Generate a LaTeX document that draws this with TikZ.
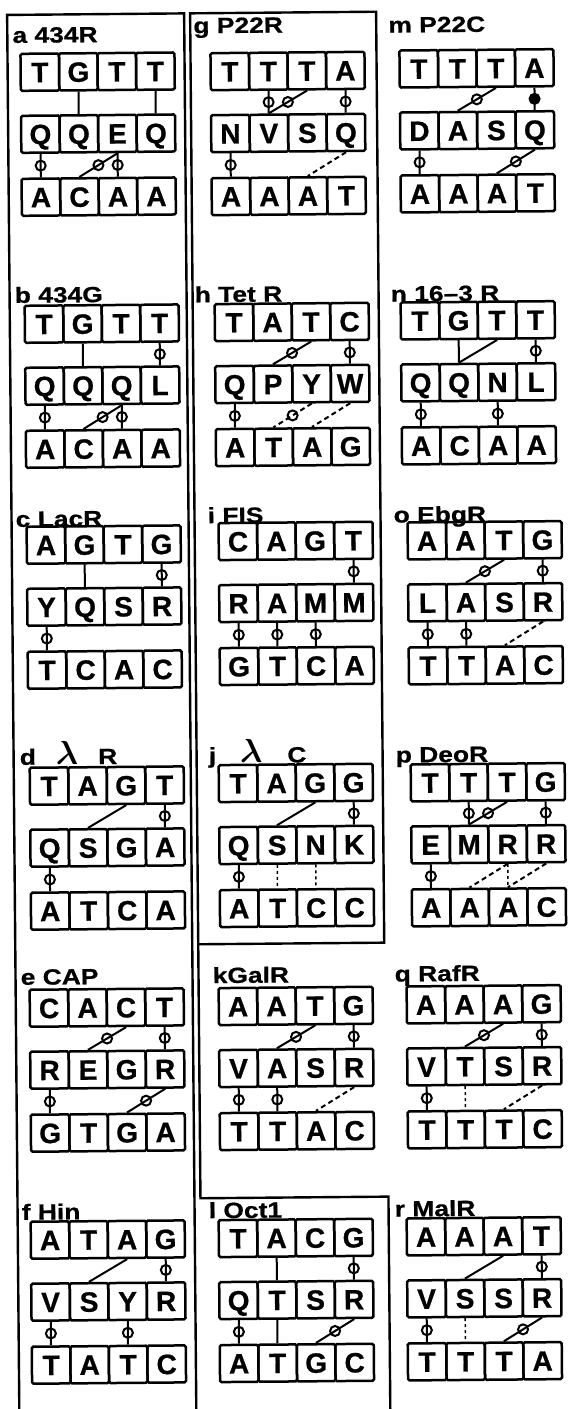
\documentclass[tikz,border=0pt]{standalone}
\usepackage{fontspec}
\setmainfont{Liberation Sans}[FakeBold=0.8]
\newfontfamily\lblfont{Liberation Sans}[FakeStretch=1.2, FakeBold=0.8]

% one row of four bases: name prefix, left x, centre y, letters
\newcommand{\dnarow}[4]{%
  \foreach \lt [count=\i] in {#4}
    \node[nucbox] (#1\i) at ({#2+38.5*\i-19.25},{#3}) {\lt};}
% one panel: id, left x, top y, DNA top, protein, DNA bottom
\newcommand{\panel}[6]{%
  \dnarow{#1t}{#2}{#3+18.5}{#4}
  \dnarow{#1m}{#2}{#3+80.5}{#5}
  \dnarow{#1b}{#2}{#3+143.5}{#6}}
\newcommand{\bondline}[3][bond]{\draw[#1] (#2.south) -- (#3.north);}
\newcommand{\ringline}[3][bond]{\draw[#1] (#2.south) -- node[ring]{} (#3.north);}
\newcommand{\lam}{\scalebox{1.6}{$\boldsymbol{\lambda}$}}
\usepackage{amsmath,amssymb}

\tikzset{
  nucbox/.style={draw, line width=2.5pt, rounded corners=1.5pt,
    minimum width=38.5pt, minimum height=37pt, inner sep=0pt,
    text height=20pt, text depth=0pt,
    font=\fontsize{28}{28}\selectfont\bfseries},
  lbl/.style={anchor=base west, inner sep=0pt,
    font=\lblfont\fontsize{22}{22}\selectfont\bfseries},
  bond/.style={line width=2pt},
  dbond/.style={bond, dash pattern=on 5pt off 3.5pt},
  sbond/.style={line width=1.5pt, dash pattern=on 3pt off 3pt},
  ring/.style={circle, draw, solid, line width=2pt, minimum size=10pt, inner sep=0pt},
  panelframe/.style={line width=2.4pt}
}

\begin{document}
\begin{tikzpicture}[x=1pt, y=-1pt]
\useasboundingbox (0,0) rectangle (569,1409);
\begin{scope}[rotate=0.5, transform shape]

% ---- frames ----
\draw[panelframe] (7,1425) -- (7,15) -- (184,15) -- (184,1425);
\draw[panelframe] (190,15) rectangle (376,946);
\draw[panelframe] (190,946) -- (190,1200) -- (378,1200) -- (378,1425);

% ---- column 1 ----
\node[lbl] (la) at (12,43) {a 434R};
\panel{a}{20}{54}{T,G,T,T}{Q,Q,E,Q}{A,C,A,A}
\bondline{at2}{am2} \bondline{at4}{am4}
\ringline{am1}{ab1} \ringline{am3}{ab3} \ringline{am3}{ab2}

\node[lbl] (lb) at (12,303) {b 434G};
\panel{b}{22}{306}{T,G,T,T}{Q,Q,Q,L}{A,C,A,A}
\bondline{bt2}{bm2} \ringline{bt4}{bm4}
\ringline{bm1}{bb1} \ringline{bm3}{bb3} \ringline{bm3}{bb2}

\node[lbl] (lc) at (11,527) {c LacR};
\panel{c}{22}{527}{A,G,T,G}{Y,Q,S,R}{T,C,A,C}
\bondline{ct2}{cm2} \ringline{ct4}{cm4}
\ringline{cm1}{cb1}

\node[lbl] (ld) at (13,765) {d\hspace{20pt}\lam\hspace{20pt}R};
\panel{d}{23}{768}{T,A,G,T}{Q,S,G,A}{A,T,C,A}
\bondline{dt3}{dm2} \ringline{dt4}{dm4}
\ringline{dm1}{db1}

\node[lbl] (le) at (12,985) {e CAP};
\panel{e}{21}{990}{C,A,C,T}{R,E,G,R}{G,T,G,A}
\ringline{et3}{em2} \ringline{et4}{em4}
\ringline{em1}{eb1} \ringline{em4}{eb3}

\node[lbl] (lf) at (11,1220) {f Hin};
\panel{f}{20}{1222}{A,T,A,G}{V,S,Y,R}{T,A,T,C}
\bondline{ft3}{fm2} \ringline{ft4}{fm4}
\ringline{fm1}{fb1} \ringline{fm3}{fb3}

% ---- column 2 ----
\node[lbl] (lg) at (193,35) {g P22R};
\panel{g}{210}{55}{T,T,T,A}{N,V,S,Q}{A,A,A,T}
\ringline{gt2}{gm2} \ringline{gt3}{gm2} \ringline{gt4}{gm4}
\ringline{gm1}{gb1} \bondline[dbond]{gm4}{gb3}

\node[lbl] (lh) at (192,304) {h Tet R};
\panel{h}{212}{306}{T,A,T,C}{Q,P,Y,W}{A,T,A,G}
\ringline{ht3}{hm2} \ringline{ht4}{hm4}
\ringline{hm1}{hb1} \ringline[dbond]{hm3}{hb2} \bondline[dbond]{hm4}{hb3}

\node[lbl] (li) at (203,525) {i FIS};
\panel{i}{214}{525}{C,A,G,T}{R,A,M,M}{G,T,C,A}
\ringline{it4}{im4}
\ringline{im1}{ib1} \ringline{im2}{ib2} \ringline{im3}{ib3}

\node[lbl] (lj) at (202,765) {j\hspace{24pt}\lam\hspace{25pt}C};
\panel{j}{212}{767}{T,A,G,G}{Q,S,N,K}{A,T,C,C}
\bondline{jt3}{jm2} \ringline{jt4}{jm4}
\ringline{jm1}{jb1} \bondline[sbond]{jm2}{jb2} \bondline[sbond]{jm3}{jb3}

\node[lbl] (lk) at (204,985) {kGalR};
\panel{k}{210}{990}{A,A,T,G}{V,A,S,R}{T,T,A,C}
\ringline{kt3}{km2} \ringline{kt4}{km4}
\ringline{km1}{kb1} \ringline{km2}{kb2} \bondline[dbond]{km4}{kb3}

\node[lbl] (ll) at (198,1220) {l Oct1};
\panel{l}{208}{1222}{T,A,C,G}{Q,T,S,R}{A,T,G,C}
\bondline{lt2}{lm2} \ringline{lt4}{lm4}
\ringline{lm1}{lb1} \bondline{lm2}{lb2} \ringline{lm4}{lb3}

% ---- column 3 ----
\node[lbl] (lm) at (388,36) {m P22C};
\panel{m}{399}{54}{T,T,T,A}{D,A,S,Q}{A,A,A,T}
\ringline{mt3}{mm2}
\draw[bond] (mt4.south) -- node[ring, fill=black]{} (mm4.north);
\ringline{mm1}{mb1} \ringline{mm4}{mb3}

\node[lbl] (ln) at (388,305) {n 16–3 R};
\panel{n}{398}{306}{T,G,T,T}{Q,Q,N,L}{A,C,A,A}
\bondline{nt2}{nm2} \bondline{nt3}{nm2} \ringline{nt4}{nm4}
\ringline{nm1}{nb1} \ringline{nm3}{nb3}

\node[lbl] (lo) at (389,526) {o EbgR};
\panel{o}{403}{526}{A,A,T,G}{L,A,S,R}{T,T,A,C}
\ringline{ot3}{om2} \ringline{ot4}{om4}
\ringline{om1}{ob1} \ringline{om2}{ob2} \bondline[dbond]{om4}{ob3}

\node[lbl] (lp) at (389,766) {p DeoR};
\panel{p}{404}{768}{T,T,T,G}{E,M,R,R}{A,A,A,C}
\ringline{pt2}{pm2} \ringline{pt3}{pm2} \ringline{pt4}{pm4}
\ringline{pm1}{pb1} \bondline[dbond]{pm3}{pb2} \bondline[sbond]{pm3}{pb3}
\bondline[dbond]{pm4}{pb3}

\node[lbl] (lq) at (386,985) {q RafR};
\panel{q}{398}{990}{A,A,A,G}{V,T,S,R}{T,T,T,C}
\ringline{qt3}{qm2} \ringline{qt4}{qm4}
\ringline{qm1}{qb1} \bondline[sbond]{qm2}{qb2} \bondline[dbond]{qm4}{qb3}

\node[lbl] (lr) at (384,1220) {r MalR};
\panel{r}{396}{1222}{A,A,A,T}{V,S,S,R}{T,T,T,A}
\bondline{rt3}{rm2} \ringline{rt4}{rm4}
\ringline{rm1}{rb1} \bondline[sbond]{rm2}{rb2} \ringline{rm4}{rb3}

\end{scope}
\end{tikzpicture}
\end{document}
